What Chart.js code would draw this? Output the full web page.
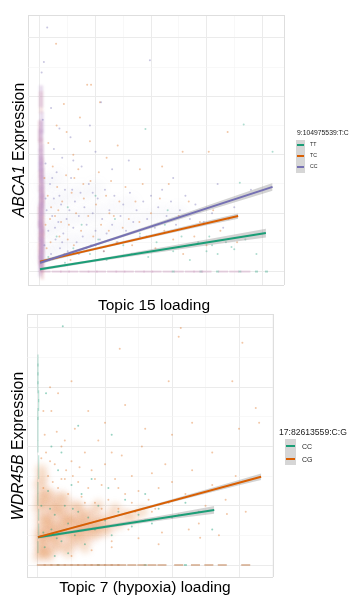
<!DOCTYPE html>
<html><head><meta charset="utf-8">
<script src="https://cdn.jsdelivr.net/npm/chart.js@4.4.1/dist/chart.umd.min.js"></script>
<style>
html,body{margin:0;padding:0;background:#fff;}
body{width:349px;height:598px;position:relative;overflow:hidden;font-family:"Liberation Sans",Arial,Helvetica,sans-serif;color:#000;}
canvas{position:absolute;left:0;}
.t{position:absolute;white-space:nowrap;line-height:1;}
.yt{transform:translate(-50%,-50%) rotate(-90deg);}
.xt{transform:translate(-50%,-50%);}
.key{position:absolute;background:#d6d6d6;}
.kl{position:absolute;height:2px;}
.lab{position:absolute;white-space:nowrap;line-height:1;transform:translateY(-50%);color:#222;}
</style></head><body>
<canvas id="c1" width="349" height="300" style="top:0;width:349px;height:300px"></canvas>
<canvas id="c2" width="349" height="298" style="top:300px;width:349px;height:298px"></canvas>
<div class="t yt" style="left:18.5px;top:150px;font-size:15.8px"><i>ABCA1</i> Expression</div>
<div class="t xt" style="left:154px;top:305px;font-size:15.5px">Topic 15 loading</div>
<div class="t yt" style="left:17.5px;top:446px;font-size:15.8px"><i>WDR45B</i> Expression</div>
<div class="t xt" style="left:145px;top:587px;font-size:15.5px">Topic 7 (hypoxia) loading</div>
<div id="leg1"></div><div id="leg2"></div>
<script>
// ---------- top panel: ABCA1 vs Topic 15, SNP 9:104975539:T:C ----------
const topSnp = '9:104975539:T:C';
const topGenotypes = ['TT', 'TC', 'CC'];

const ttPointsTop = [[0.15,0.25],[0.3,0.6],[0.45,0.15],[0.6,0.4],[0.75,0.8],[0.9,0.3],[1.05,0.55],[1.2,0.2],[1.35,0.9],[1.5,0.45],[1.65,0.3],[1.8,0.65],[1.95,0.25],[2.1,0.5],[2.25,0.8],[2.4,0.35],[2.55,0.6],[2.7,0.2],[2.85,0.5],[3.0,0.35],[3.1,0.45],[3.2,0.3],[3.35,0.5],[3.5,0.38],[3.7,0.55],[3.9,0.3],[1.9,2.44],[3.67,2.52],[4.19,2.05],[3.6,1.52],[1.0,1.3],[2.3,1.05],[0.5,1.1],[3.05,0.6],[3.45,0.42]];
const tcPointsTop = [[0.1,0.8],[0.14,1.3],[0.19,0.5],[0.23,1.8],[0.27,0.95],[0.31,1.45],[0.35,0.6],[0.4,1.2],[0.44,0.3],[0.47,1.65],[0.52,0.8],[0.57,1.35],[0.61,0.45],[0.65,1.0],[0.69,1.75],[0.74,0.7],[0.79,1.25],[0.83,0.4],[0.87,0.95],[0.91,1.55],[0.96,0.6],[1.01,1.15],[1.06,1.7],[1.1,0.8],[1.15,0.35],[1.19,1.3],[1.24,0.7],[1.28,1.55],[1.33,0.95],[1.38,0.5],[1.43,1.2],[1.49,0.75],[1.54,1.45],[1.6,0.9],[1.66,0.45],[1.72,1.2],[1.79,0.85],[1.85,1.5],[1.92,0.6],[2.0,1.0],[2.08,0.4],[2.16,1.25],[2.24,0.7],[2.32,1.5],[2.4,0.55],[2.5,0.95],[2.58,0.3],[2.68,1.2],[2.78,0.6],[2.88,0.85],[3.0,0.45],[3.12,1.05],[3.25,0.7],[3.4,0.9],[3.55,0.5],[0.15,2.2],[0.3,2.5],[0.43,2.87],[0.48,2.39],[0.72,2.64],[0.9,2.23],[1.08,2.9],[1.4,2.16],[2.57,2.05],[3.04,2.05],[3.38,2.39],[0.85,3.2],[0.92,3.2],[0.29,3.9],[1.2,1.95],[1.8,1.75],[2.2,1.8],[0.6,2.0],[0.2,1.1],[0.38,0.85],[0.55,0.2],[0.12,0.4],[0.08,1.6],[0.33,1.05],[0.5,0.55],[0.78,1.5],[1.0,0.45],[1.25,1.0],[0.62,1.6],[0.18,0.9]];
const ccPointsTop = [[0.08,0.45],[0.12,1.05],[0.15,0.7],[0.18,1.5],[0.2,0.3],[0.22,0.95],[0.25,1.25],[0.28,0.55],[0.3,1.7],[0.33,0.85],[0.36,0.4],[0.38,1.15],[0.42,0.65],[0.45,1.4],[0.48,0.9],[0.5,0.35],[0.53,1.05],[0.56,1.6],[0.6,0.75],[0.63,1.2],[0.66,0.5],[0.7,0.95],[0.73,1.35],[0.77,0.6],[0.8,1.1],[0.84,0.8],[0.88,1.5],[0.92,0.45],[0.95,1.0],[1.0,0.7],[1.04,1.25],[1.08,0.55],[1.12,0.9],[1.17,1.4],[1.2,0.65],[1.25,1.05],[1.3,0.8],[1.34,1.3],[1.4,0.5],[1.45,0.95],[1.5,1.15],[1.55,0.7],[1.62,1.35],[1.68,0.85],[1.74,1.05],[1.8,0.6],[1.86,1.2],[1.93,0.9],[2.0,1.3],[2.07,0.75],[2.13,1.1],[2.2,1.4],[2.28,0.95],[2.36,1.2],[2.45,0.8],[2.52,1.05],[2.62,1.3],[2.7,0.9],[2.8,1.15],[2.95,0.85],[3.1,1.0],[3.3,0.75],[3.5,1.1],[0.1,1.85],[0.25,2.1],[0.4,1.95],[0.55,2.3],[0.75,1.8],[1.0,2.05],[1.3,1.75],[0.05,2.6],[0.2,2.8],[1.1,2.9],[0.13,4.18],[0.07,3.59],[0.03,3.41],[1.98,3.62],[0.6,1.9],[0.35,2.45],[0.9,2.5],[1.6,1.9],[2.4,1.6],[3.2,1.5],[3.8,1.4],[0.16,0.2],[0.27,0.75],[0.1,1.25],[0.22,1.6],[0.4,0.5],[0.58,1.4],[0.7,0.3],[0.95,1.35],[1.15,0.35],[0.35,1.3]];
// faint haze where points overlap heavily
const hazeTop = [[0.1,0.3],[0.1,0.7],[0.1,1.1],[0.1,1.5],[0.3,0.4],[0.3,0.8],[0.3,1.2],[0.3,1.6],[0.5,0.5],[0.5,0.9],[0.5,1.3],[0.75,0.55],[0.75,0.95],[0.75,1.35],[1.0,0.6],[1.0,1.0],[1.0,1.4],[1.3,0.7],[1.3,1.1],[1.6,0.8],[1.6,1.15],[1.9,0.9],[2.2,1.0],[2.5,1.0]];
// dense column of cells with near-zero loading
const ccColumnTop = [[0.01,0.1],[0.03,0.25],[0.02,0.4],[0.04,0.55],[0.01,0.7],[0.03,0.85],[0.02,1.0],[0.04,1.15],[0.01,1.3],[0.03,1.45],[0.04,1.6],[0.02,1.8],[0.03,2.0],[0.01,2.25],[0.03,2.55],[0.02,0.18],[0.04,0.35],[0.03,0.62],[0.0,0.92],[0.04,1.25],[0.02,3.0],[0.02,1.7],[0.01,1.9],[0.02,2.4]];
const tcColumnTop = [[0.03,0.15],[0.0,0.3],[0.04,0.48],[0.02,0.65],[0.04,0.8],[0.0,0.95],[0.03,1.1],[0.04,1.35],[0.01,1.55],[0.03,1.75],[0.02,2.1],[0.0,2.4],[0.02,2.9],[0.04,0.05],[0.01,0.5],[0.04,0.75],[0.03,1.2]];
// row of cells with zero expression
const pinkRowTopX = [0.1,0.3,0.45,0.6,0.8,0.95,1.1,1.3,1.45,1.6,1.8,1.95,2.1,2.3,2.5,2.7,2.85,3.0,3.3,3.5,3.7];
const greenRowTopX = [2.4,2.9,3.2,3.6,3.9,4.08];
// fitted lines [x0,y0],[x1,y1]
const ttLineTop = [[0,0.04],[4.07,0.66]];
const tcLineTop = [[0,0.17],[3.57,0.95]];
const ccLineTop = [[0,0.15],[4.19,1.45]];
// confidence bands
const ttBandX = [0,1,2,3,4.07];
const ttBandLo = [0.015,0.17,0.31,0.447,0.585];
const ttBandHi = [0.065,0.21,0.38,0.547,0.735];
const tcBandX = [0,1,2,3,3.57];
const tcBandLo = [0.14,0.37,0.585,0.795,0.905];
const tcBandHi = [0.20,0.41,0.635,0.865,0.995];
const ccBandX = [0,1,2,3,4.19];
const ccBandLo = [0.12,0.44,0.74,1.035,1.385];
const ccBandHi = [0.18,0.48,0.80,1.125,1.515];

// ---------- bottom panel: WDR45B vs Topic 7, SNP 17:82613559:C:G ----------
const bottomSnp = '17:82613559:C:G';
const bottomGenotypes = ['CC', 'CG'];

const cgCloudBottom = [[0.01,0.15],[0.03,0.35],[0.02,0.55],[0.04,0.75],[0.01,0.95],[0.03,1.15],[0.02,1.35],[0.05,1.6],[0.1,0.22],[0.12,0.42],[0.09,0.62],[0.11,0.82],[0.13,1.02],[0.1,1.22],[0.2,0.28],[0.22,0.48],[0.19,0.68],[0.21,0.88],[0.23,1.08],[0.32,0.3],[0.3,0.52],[0.33,0.72],[0.31,0.92],[0.34,1.15],[0.44,0.35],[0.42,0.55],[0.45,0.75],[0.43,0.95],[0.55,0.38],[0.57,0.6],[0.54,0.8],[0.56,1.0],[0.67,0.45],[0.66,0.65],[0.68,0.85],[0.8,0.48],[0.78,0.68],[0.81,0.9],[0.93,0.55],[0.92,0.78],[1.05,0.6],[1.08,0.82],[1.2,0.7],[0.06,0.25],[0.16,0.15],[0.07,1.45],[0.15,0.55],[0.26,0.62],[0.38,0.82],[0.5,0.5],[0.62,0.72],[0.73,0.58],[0.86,0.7],[0.98,0.68],[1.3,0.85],[1.15,0.95],[0.05,0.45],[0.16,0.75],[0.27,0.4],[0.38,0.62],[0.49,0.72],[0.6,0.52],[0.72,0.78],[0.85,0.6],[1.4,0.8],[1.55,0.9],[0.06,1.05],[0.17,1.2],[0.28,0.98],[0.4,1.1],[0.62,0.95],[0.9,1.0],[0.45,0.22],[0.7,0.3]];
const cgPointsBottom = [[0.05,1.8],[0.1,2.2],[0.15,1.5],[0.2,2.6],[0.25,1.7],[0.3,1.3],[0.35,2.0],[0.4,1.45],[0.45,1.2],[0.5,1.75],[0.55,2.3],[0.6,1.4],[0.65,1.15],[0.7,1.9],[0.75,1.3],[0.8,1.6],[0.85,1.05],[0.9,2.1],[0.95,1.35],[1.0,1.7],[1.05,1.1],[1.1,0.4],[1.15,1.45],[1.2,0.95],[1.25,1.85],[1.3,1.2],[1.35,0.6],[1.4,1.5],[1.45,0.9],[1.5,1.25],[1.55,2.0],[1.6,0.75],[1.65,1.1],[1.7,1.55],[1.75,0.95],[1.8,1.3],[1.85,0.55],[1.9,1.7],[1.95,1.05],[2.0,1.4],[2.1,0.85],[2.2,1.2],[2.3,1.6],[2.4,0.7],[2.5,1.0],[2.6,1.35],[2.7,0.5],[2.8,1.1],[2.95,1.5],[3.1,0.9],[0.08,2.6],[0.18,3.0],[0.3,2.9],[0.5,3.1],[0.75,2.6],[1.0,2.4],[1.3,2.7],[1.6,2.3],[2.0,2.2],[2.3,2.4],[2.6,1.9],[3.0,2.3],[1.22,3.65],[2.13,4.0],[2.1,3.85],[3.05,3.75],[3.25,2.65],[3.3,2.4],[2.9,3.1],[1.95,3.1],[0.5,0.15],[0.8,0.25],[1.1,0.3],[1.5,0.45],[1.8,0.35],[2.25,0.6],[2.42,0.46],[2.82,0.86],[0.12,1.9],[0.28,2.25],[0.42,1.6],[0.62,1.65],[0.85,1.45],[1.1,1.9],[1.4,1.05],[1.7,0.9],[1.2,1.3],[0.95,0.95],[0.7,1.05],[0.35,1.45],[0.22,1.4],[0.08,1.3],[0.52,1.5],[0.18,1.75],[0.4,2.1]];
const ccPointsBottom = [[0.05,1.0],[0.1,0.3],[0.15,1.25],[0.2,0.6],[0.25,0.85],[0.3,1.6],[0.35,0.4],[0.4,1.0],[0.45,0.7],[0.5,1.35],[0.55,0.5],[0.6,0.9],[0.65,1.2],[0.7,0.35],[0.75,0.8],[0.8,1.45],[0.85,0.6],[0.9,1.0],[1.0,0.75],[1.05,1.3],[1.1,0.5],[1.2,0.9],[1.3,1.1],[1.4,0.65],[1.5,0.85],[1.6,1.2],[1.7,0.7],[1.8,0.95],[2.0,0.8],[2.2,1.05],[2.4,0.9],[2.6,0.6],[0.2,2.0],[0.35,1.9],[0.6,2.35],[0.12,2.9],[0.37,4.03],[1.1,2.2],[0.25,0.15],[0.45,0.2],[0.08,0.55],[0.18,0.95],[0.28,0.45],[0.52,0.95]];
const ccColumnBottom = [[0.0,0.3],[0.01,0.6],[0.01,0.85],[0.0,1.1],[0.0,1.3],[0.01,1.55],[0.01,1.75],[0.0,2.0],[0.0,2.2],[0.0,2.4],[0.0,2.55],[0.01,2.7],[0.01,2.85],[0.0,3.0],[0.0,3.15],[0.0,3.3],[0.0,3.45]];
const cgRowBottomX = [0.05,0.15,0.25,0.35,0.45,0.55,0.65,0.75,0.85,0.95,1.05,1.15,1.25,1.4,1.55,1.7,1.85,2.1,2.35,2.55,2.75,3.1];
const ccRowBottomX = [0.3,0.9,1.6,2.2];
const ccLineBottom = [[0,0.47],[2.63,0.93]];
const cgLineBottom = [[0,0.47],[3.33,1.49]];
const ccBandBX = [0,1,2,2.63];
const ccBandBLo = [0.445,0.62,0.775,0.865];
const ccBandBHi = [0.495,0.67,0.865,0.995];
const cgBandBX = [0,1,2,3,3.33];
const cgBandBLo = [0.45,0.761,1.058,1.344,1.435];
const cgBandBHi = [0.49,0.791,1.108,1.434,1.545];

// ---------- styling ----------
const COL = {TT:'#1b9e77', TC:'#d95f02', CC:'#7570b3', CCb:'#1b9e77', CG:'#d95f02'};
function rgba(hex, a){const n=parseInt(hex.slice(1),16);return `rgba(${n>>16},${(n>>8)&255},${n&255},${a})`;}
const xy = arr => arr.map(p => ({x:p[0], y:p[1]}));
const row = xs => xs.map(x => ({x, y:0}));
const band = (xs, ys) => xs.map((x,i) => ({x, y:ys[i]}));
const BAND = 'rgba(150,150,150,0.42)';

// soft-focus plugin: datasets carrying a `blur` value are drawn through a canvas blur filter
const blurPlugin = {
  id:'blurPlugin',
  beforeDatasetDraw(chart, args){ const b = args.meta._dataset.blur; if(b){ chart.ctx.save(); chart.ctx.filter = `blur(${b}px)`; } },
  afterDatasetDraw(chart, args){ if(args.meta._dataset.blur){ chart.ctx.restore(); } }
};

function pts(data, color, a, r){return {type:'scatter', data, pointRadius:r||1, pointBorderWidth:0, backgroundColor:rgba(color,a), borderWidth:0, order:3};}
function dashes(data, color, a, rot, r, w, blur){return {type:'scatter', data, pointStyle:'line', rotation:rot, pointRadius:r, borderColor:rgba(color,a), pointBorderWidth:w||2, borderWidth:w||2, order:4, blur};}
function cloud(data, color, a, r, blur){return {type:'scatter', data, pointRadius:r, pointBorderWidth:0, borderWidth:0, backgroundColor:rgba(color,a), order:5, blur};}
function fitLine(data, color){return {type:'line', data:xy(data), borderColor:color, borderWidth:2, pointRadius:0, fill:false, tension:0, order:0};}
function bandPair(xs, lo, hi){return [
  {type:'line', data:band(xs,hi), borderWidth:0, borderColor:'rgba(0,0,0,0)', pointRadius:0, backgroundColor:BAND, fill:'+1', tension:0, order:1},
  {type:'line', data:band(xs,lo), borderWidth:0, borderColor:'rgba(0,0,0,0)', pointRadius:0, fill:false, tension:0, order:1}
];}

function gridScale(min, max){
  const vals=[min];
  for(let v=Math.ceil(min*2)/2; v<=max+1e-9; v+=0.5){ if(v>min+1e-9 && v<max-1e-9) vals.push(Math.round(v*2)/2); }
  vals.push(max);
  return {
    type:'linear', min, max, display:true,
    afterBuildTicks: s => { s.ticks = vals.map(v => ({value:v})); },
    ticks:{display:false}, border:{display:false},
    grid:{drawTicks:false, tickLength:0,
      color: c => { const v=c.tick.value; if(v===min||v===max) return '#dedede'; return Number.isInteger(v)?'#ebebeb':'#f4f4f4'; },
      lineWidth: c => { const v=c.tick.value; if(v===min||v===max) return 1; return Number.isInteger(v)?1:0.6; }
    },
    title:{display:false}
  };
}

function makeChart(id, datasets, xr, yr, pad){
  return new Chart(document.getElementById(id), {
    type:'scatter',
    data:{datasets},
    plugins:[blurPlugin],
    options:{
      responsive:false, animation:false, events:[],
      layout:{padding:pad},
      plugins:{legend:{display:false}, tooltip:{enabled:false}},
      scales:{x:gridScale(xr[0],xr[1]), y:gridScale(yr[0],yr[1])}
    }
  });
}

const topSets = [
  fitLine(ccLineTop, COL.CC), fitLine(tcLineTop, COL.TC), fitLine(ttLineTop, COL.TT),
  ...bandPair(ccBandX, ccBandLo, ccBandHi), ...bandPair(tcBandX, tcBandLo, tcBandHi), ...bandPair(ttBandX, ttBandLo, ttBandHi),
  pts(xy(ccPointsTop), COL.CC, 0.4), pts(xy(tcPointsTop), COL.TC, 0.35), pts(xy(ttPointsTop), COL.TT, 0.35),
  dashes(xy(ccColumnTop), '#b98fc6', 0.32, 90, 11, 4, 1), dashes(xy(tcColumnTop), '#e09a9a', 0.28, 90, 11, 4, 1),
  dashes(row(pinkRowTopX), '#d3a3c6', 0.45, 0, 5, 2, 0.4), dashes(row(greenRowTopX), COL.TT, 0.35, 0, 1.5),
  cloud(xy(hazeTop), COL.CC, 0.045, 9, 5)
];
makeChart('c1', topSets, [-0.216, 4.396], [-0.23, 4.393], {left:28, top:10, right:65, bottom:8});

const bottomSets = [
  fitLine(cgLineBottom, COL.CG), fitLine(ccLineBottom, COL.CCb),
  ...bandPair(cgBandBX, cgBandBLo, cgBandBHi), ...bandPair(ccBandBX, ccBandBLo, ccBandBHi),
  pts(xy(ccPointsBottom), COL.CCb, 0.45), pts(xy(cgPointsBottom), COL.CG, 0.35),
  cloud(xy(cgCloudBottom), COL.CG, 0.2, 6, 3),
  dashes(xy(ccColumnBottom), COL.CCb, 0.28, 90, 6, 1.2),
  dashes(row(cgRowBottomX), '#c9946e', 0.6, 0, 4.5, 2, 0.3), dashes(row(ccRowBottomX), COL.CCb, 0.4, 0, 1.5)
];
makeChart('c2', bottomSets, [-0.164, 3.507], [-0.2025, 4.236], {left:27, top:14, right:76, bottom:21});

// ---------- legends ----------
function legend(el, title, names, colors, o){
  let h = `<div class="lab" style="left:${o.x}px;top:${o.ty}px;font-size:${o.tf}px">${title}</div>`;
  h += `<div class="key" style="left:${o.kx}px;top:${o.ky}px;width:${o.kw}px;height:${o.kh*names.length}px"></div>`;
  names.forEach((n,i) => {
    const cy = o.ky + o.kh*i + o.kh/2;
    h += `<div class="kl" style="left:${o.kx+1}px;top:${cy-1}px;width:${o.kw-2}px;background:${colors[i]}"></div>`;
    h += `<div class="lab" style="left:${o.lx}px;top:${cy}px;font-size:${o.lf}px">${n}</div>`;
  });
  document.getElementById(el).innerHTML = h;
}
legend('leg1', topSnp, topGenotypes, [COL.TT, COL.TC, COL.CC], {x:297, ty:133, tf:6.8, kx:296, ky:139.5, kw:9, kh:11, lx:310, lf:5.2});
legend('leg2', bottomSnp, bottomGenotypes, [COL.CCb, COL.CG], {x:279, ty:432, tf:8.6, kx:285, ky:439, kw:11, kh:13, lx:302, lf:7});
</script>
</body></html>
